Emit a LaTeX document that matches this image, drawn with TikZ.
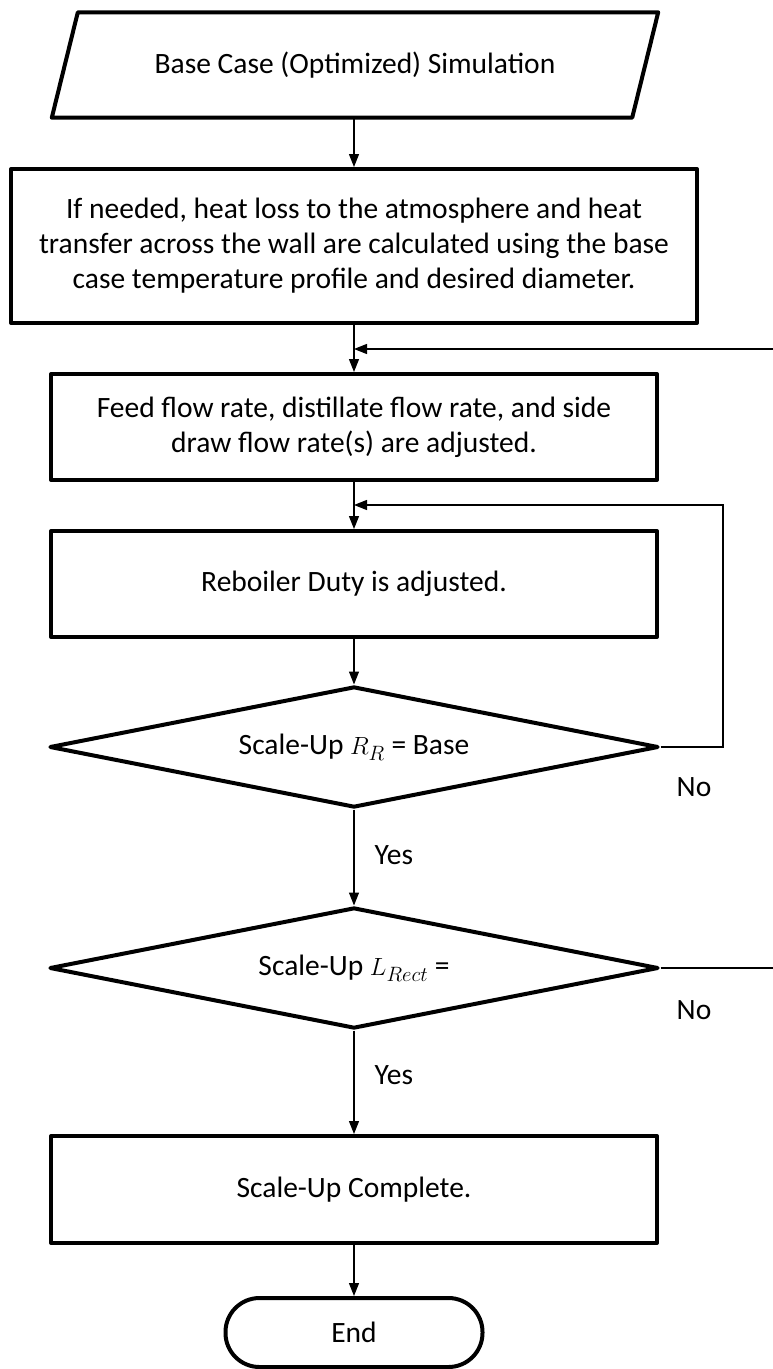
\documentclass[tikz,border=0pt]{standalone}
\usepackage{fontspec}
\setmainfont{Carlito}
\usetikzlibrary{shapes.geometric,arrows.meta}
\begin{document}
\begin{tikzpicture}[x=1pt,y=-1pt,
  every node/.style={font=\fontsize{29.5}{35}\selectfont, inner sep=0pt},
  thick border/.style={draw, line width=4pt, line join=round},
  box/.style={thick border, minimum width=606pt, minimum height=106pt, align=center},
  dec/.style={thick border, diamond, aspect=5, minimum width=609pt, minimum height=121pt},
  term/.style={thick border, rounded corners=34pt, minimum width=257pt, minimum height=69pt},
  flow/.style={line width=1.2pt},
  arr/.style={flow, -{Triangle[length=13pt,width=10pt]}}
]
\useasboundingbox (0,0) rectangle (773,1369);

% start: parallelogram drawn around an invisible node
\node[minimum width=580pt, minimum height=105pt] (sim) at (355,65) {Base Case (Optimized) Simulation};
\draw[thick border] ([xshift=13pt]sim.north west) -- ([xshift=13pt]sim.north east)
  -- ([xshift=-13pt]sim.south east) -- ([xshift=-13pt]sim.south west) -- cycle;

\node[box, minimum width=686pt, minimum height=154pt] (heat) at (354,246)
  {If needed, heat loss to the atmosphere and heat\\transfer across the wall are calculated using the base\\case temperature profile and desired diameter.};
\node[box] (feed) at (354,427) {Feed flow rate, distillate flow rate, and side\\draw flow rate(s) are adjusted.};
\node[box] (reb) at (354,584) {Reboiler Duty is adjusted.};
\node[dec] (rr) at (354,747) {Scale-Up $R_R$ = Base};
\node[dec] (lr) at (354,968) {Scale-Up $L_{Rect}$ =};
\node[box, minimum height=107pt] (done) at (354,1189.5) {Scale-Up Complete.};
\node[term] (end) at (354,1332.5) {End};

% junctions where the loops rejoin the main line
\coordinate (j1) at (354,349);
\coordinate (j2) at (354,505);
\coordinate (e1) at (773,349);
\coordinate (e2) at (773,968);
\coordinate (k1) at (723,747);

% main flow
\draw[arr] (sim.south -| heat.north) -- (heat.north);
\draw[arr] (heat.south) -- (feed.north);
\draw[arr] (feed.south) -- (reb.north);
\draw[arr] (reb.south) -- (rr.north);
\draw[arr] (rr.south) -- node[right=20pt, pos=0.48] {Yes} (lr.north);
\draw[arr] (lr.south) -- node[right=20pt, pos=0.43] {Yes} (done.north);
\draw[arr] (done.south) -- (end.north);

% loops
\draw[arr] (e1) -- (j1);
\draw[arr] (rr.east) -- (k1) |- (j2);
\draw[flow] (lr.east) -- (e2);
\node (no1) at (694,787) {No};
\node (no2) at (694,1010) {No};
\end{tikzpicture}
\end{document}
